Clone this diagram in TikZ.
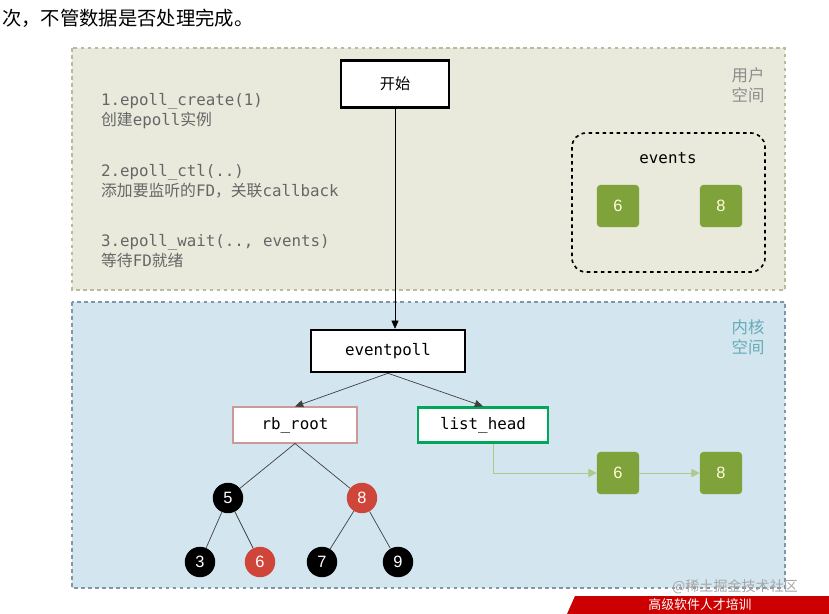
\documentclass[tikz,border=0pt]{standalone}
\usepackage{fontspec}
\setmainfont{Liberation Sans}
\setmonofont{DejaVu Sans Mono}
\newfontfamily\cjk{Noto Sans CJK SC}
\usetikzlibrary{arrows.meta}

\definecolor{userbg}{HTML}{E9EADC}
\definecolor{userln}{HTML}{B9BC9C}
\definecolor{kernbg}{HTML}{D3E5EE}
\definecolor{kernln}{HTML}{7F97A6}
\definecolor{fdgreen}{HTML}{7FA33A}
\definecolor{rbred}{HTML}{D0453A}
\tikzset{
  box/.style={draw=black,line width=2pt,fill=white,font=\ttfamily\fontsize{13.5}{15}\selectfont},
  fd/.style={fill=fdgreen,rounded corners=3pt,minimum size=36pt,text=white!85!yellow,font=\fontsize{14}{16}\selectfont},
  bnode/.style={circle,fill=black,minimum size=26pt,inner sep=0pt,text=white,font=\fontsize{14}{16}\selectfont},
  rnode/.style={bnode,fill=rbred},
  note/.style={anchor=west,text=black!60,align=left,font=\ttfamily\fontsize{13.5}{17}\selectfont},
  edge/.style={draw=black!75,semithick}
}

\begin{document}
\begin{tikzpicture}[x=0.03cm,y=-0.03cm]
\useasboundingbox[fill=white] (0,0) rectangle (829,614);
\node[anchor=west,inner sep=0pt,font=\cjk\fontsize{16.5}{18}\selectfont] (title) at (2,18) {次，不管数据是否处理完成。};

% user space
\draw[userln,fill=userbg,line width=1.2pt,dashed] (72,48) rectangle (785,290);
\node[text=black!45,align=center,font=\cjk\fontsize{14}{17}\selectfont] (user) at (748,85) {用户\\空间};
\node[note] (s1) at (97,111) {1.epoll\_create(1)\\{\cjk 创建}epoll{\cjk 实例}};
\node[note] (s2) at (97,181) {2.epoll\_ctl(..)\\{\cjk 添加要监听的}FD{\cjk ，关联}callback};
\node[note] (s3) at (97,251) {3.epoll\_wait(.., events)\\{\cjk 等待}FD{\cjk 就绪}};
\node[box,minimum width=92,minimum height=40,font=\cjk\fontsize{13}{15}\selectfont] (start) at (395,84) {开始};
\draw[black,line width=1.4pt,dashed,rounded corners=12pt] (572,133) rectangle (765,272);
\node[font=\ttfamily\fontsize{13.5}{15}\selectfont] (events) at (668,158) {events};
\node[fd] (e6) at (618,206) {6};
\node[fd] (e8) at (721,206) {8};

% kernel space
\draw[kernln,fill=kernbg,line width=1.2pt,dashed] (72,302) rectangle (785,588);
\node[text=kernln!80!cyan,align=center,font=\cjk\fontsize{14}{17}\selectfont] (kern) at (748,337) {内核\\空间};
\node[box,minimum width=155*0.85pt,minimum height=36pt] (ep) at (388,351) {eventpoll};
\node[box,draw=red!35!gray!60,line width=1.6pt,minimum width=125*0.85pt,minimum height=30pt] (rb) at (295,425) {rb\_root};
\node[box,draw=teal!70!green,line width=2pt,minimum width=130*0.85pt,minimum height=30pt] (lh) at (483,425) {list\_head};
\draw[-{Triangle[length=7pt,width=6pt]},thin] (start) -- (start.south |- ep.north);
\draw[-{Triangle[length=7pt,width=6pt]},edge] (ep.south) -- (rb.north);
\draw[-{Triangle[length=7pt,width=6pt]},edge] (ep.south) -- (lh.north);

% red-black tree
\node[bnode] (n5) at (228,498) {5};
\node[rnode] (n8) at (362,498) {8};
\node[bnode] (n3) at (200,562) {3};
\node[rnode] (n6) at (260,562) {6};
\node[bnode] (n7) at (322,562) {7};
\node[bnode] (n9) at (398,562) {9};
\draw[edge] (rb.south) -- (n5) (rb.south) -- (n8);
\draw[edge] (n5) -- (n3) (n5) -- (n6) (n8) -- (n7) (n8) -- (n9);

% ready list
\node[fd] (r6) at (618,473) {6};
\node[fd] (r8) at (721,473) {8};
\draw[fdgreen!60,thick,-{Triangle[length=7pt,width=7pt]}] (lh.south -| 493,0) |- (r6.west);
\draw[fdgreen!60,thick,-{Triangle[length=7pt,width=7pt]}] (r6) -- (r8);

\node[text=black!35,font=\cjk\fontsize{12}{14}\selectfont] (mark) at (735,587) {@稀土掘金技术社区};
\fill[red!80!black] (575,596) -- (829,596) -- (829,614) -- (567,614) -- cycle;
\node[text=white,inner sep=0pt,font=\cjk\fontsize{11}{12}\selectfont] (banner) at (700,605) {高级软件人才培训};
\end{tikzpicture}
\end{document}
